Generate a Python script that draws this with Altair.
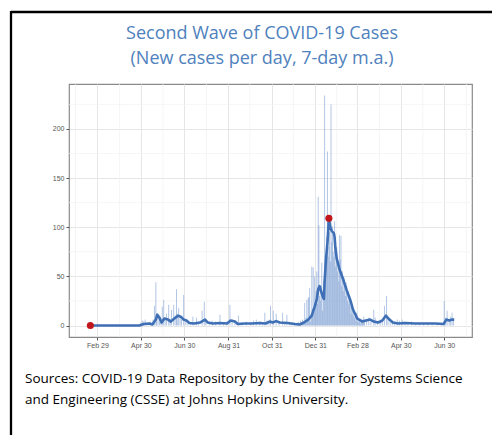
import altair as alt
import pandas as pd

# ---------------- data ----------------
ma_dates = ["2020-02-19", "2020-04-28", "2020-05-04", "2020-05-12", "2020-05-16", "2020-05-21",
            "2020-05-23", "2020-05-26", "2020-05-29", "2020-06-02", "2020-06-07", "2020-06-11",
            "2020-06-16", "2020-06-21", "2020-06-25", "2020-06-29", "2020-07-03", "2020-07-07",
            "2020-07-14", "2020-07-22", "2020-07-29", "2020-08-02", "2020-08-09", "2020-08-19",
            "2020-08-29", "2020-09-03", "2020-09-09", "2020-09-13", "2020-09-23", "2020-10-03",
            "2020-10-14", "2020-10-22", "2020-10-28", "2020-11-01", "2020-11-06", "2020-11-11",
            "2020-11-22", "2020-12-02", "2020-12-09", "2020-12-15", "2020-12-21", "2020-12-26",
            "2020-12-28", "2020-12-30", "2021-01-01", "2021-01-02", "2021-01-04", "2021-01-06",
            "2021-01-08", "2021-01-10", "2021-01-12", "2021-01-13", "2021-01-15", "2021-01-17",
            "2021-01-18", "2021-01-19", "2021-01-21", "2021-01-23", "2021-01-26", "2021-01-27",
            "2021-01-28", "2021-01-30", "2021-02-03", "2021-02-08", "2021-02-13", "2021-02-18",
            "2021-02-22", "2021-02-28", "2021-03-07", "2021-03-12", "2021-03-18", "2021-03-23",
            "2021-03-29", "2021-04-04", "2021-04-09", "2021-04-14", "2021-04-19", "2021-04-26",
            "2021-05-06", "2021-05-20", "2021-06-03", "2021-06-17", "2021-06-29", "2021-07-03",
            "2021-07-07", "2021-07-11", "2021-07-14"]
ma_values = [0, 0, 1.5, 2, 1, 6,
             11, 8, 3, 7, 6, 4,
             7, 10, 9, 6, 5, 2.5,
             2, 3, 6, 3, 2, 2.5,
             2, 5, 4, 1.5, 2, 2,
             2.5, 2, 4, 3, 4.5, 3,
             2.5, 1.5, 1, 3, 6, 10,
             15, 19, 24, 27, 37, 40,
             35, 30, 27, 45, 68, 84,
             96, 109, 100, 96, 94, 90,
             80, 68, 57, 47, 36, 26,
             16, 7, 4, 5, 6, 4,
             3, 5, 10, 6, 3, 2,
             2.5, 2, 2, 2, 1.5, 6,
             5, 6, 6]

spike_dates = ["2020-04-30", "2020-05-02", "2020-05-04", "2020-05-06", "2020-05-08", "2020-05-10",
               "2020-05-13", "2020-05-17", "2020-05-19", "2020-05-21", "2020-05-22", "2020-05-24",
               "2020-05-26", "2020-05-28", "2020-05-30", "2020-06-01", "2020-06-03", "2020-06-05",
               "2020-06-08", "2020-06-10", "2020-06-12", "2020-06-15", "2020-06-17", "2020-06-19",
               "2020-06-20", "2020-06-22", "2020-06-24", "2020-06-26", "2020-06-29", "2020-07-02",
               "2020-07-05", "2020-07-09", "2020-07-12", "2020-07-17", "2020-07-20", "2020-07-25",
               "2020-07-28", "2020-07-30", "2020-08-04", "2020-08-08", "2020-08-13", "2020-08-19",
               "2020-08-24", "2020-08-28", "2020-09-02", "2020-09-05", "2020-09-09", "2020-09-14",
               "2020-09-19", "2020-09-25", "2020-10-01", "2020-10-05", "2020-10-09", "2020-10-14",
               "2020-10-18", "2020-10-21", "2020-10-24", "2020-10-27", "2020-10-29", "2020-11-02",
               "2020-11-06", "2020-11-10", "2020-11-15", "2020-11-18", "2020-11-21", "2020-11-25",
               "2020-11-28",
               "2021-03-13", "2021-03-16", "2021-03-19", "2021-03-23", "2021-03-25", "2021-03-28",
               "2021-04-01", "2021-04-04", "2021-04-07", "2021-04-10", "2021-04-12", "2021-04-15",
               "2021-04-18", "2021-04-21", "2021-04-25", "2021-04-28", "2021-05-02", "2021-05-06",
               "2021-05-10", "2021-05-15", "2021-05-20", "2021-05-26", "2021-06-01", "2021-06-07",
               "2021-06-13", "2021-06-20", "2021-06-26", "2021-06-30", "2021-07-02", "2021-07-04",
               "2021-07-07", "2021-07-09", "2021-07-11", "2021-07-13"]
spike_values = [3, 5, 4, 6, 3, 2,
                4, 6, 20, 44, 12, 9,
                8, 6, 19, 26, 5, 12,
                21, 7, 16, 21, 10, 37,
                12, 18, 8, 6, 31, 6,
                4, 3, 9, 8, 4, 15,
                24, 7, 3, 5, 4, 11,
                3, 4, 21, 6, 5, 10,
                3, 4, 3, 5, 6, 4,
                3, 13, 5, 6, 20, 15,
                12, 4, 13, 3, 11, 2,
                3,
                5, 8, 4, 16, 8, 3,
                6, 5, 20, 30, 8, 6,
                4, 3, 6, 5, 6, 4,
                3, 4, 2, 3, 2, 3,
                2, 3, 2, 25, 8, 15,
                6, 9, 13, 7]

# daily new cases during the second wave, one value per day from wave_start
wave_start = "2020-12-01"
wave_values = [0, 3, 0, 2, 0, 1, 4, 0, 2, 5, 0, 3, 6, 2, 4, 23, 3, 8, 26, 5, 28, 29, 38, 4, 12,
               60, 10, 59, 18, 50, 20,
               35, 55, 22, 131, 102, 30, 25, 40, 64, 15, 30, 45, 234, 55, 60, 90, 177, 70, 80, 95,
               65, 225, 85, 101, 75, 70, 106, 60, 75, 80, 55,
               60, 45, 92, 67, 91, 40, 55, 35, 50, 47, 30, 44, 40, 25, 30, 22, 28, 20, 12, 20, 15,
               10, 14, 8, 9, 5, 13, 4,
               6, 3, 5, 2, 7, 4, 3, 6, 9, 4]

marker_dates = ["2020-02-19", "2021-01-19"]
marker_values = [0, 109]

major_ticks = ["2020-02-29", "2020-04-30", "2020-06-30", "2020-08-31", "2020-10-31",
               "2020-12-31", "2021-02-28", "2021-04-30", "2021-06-30"]
minor_ticks = ["2020-01-29", "2020-03-31", "2020-05-31", "2020-07-31", "2020-09-30",
               "2020-11-30", "2021-01-30", "2021-03-31", "2021-05-31", "2021-07-31"]
x_limits = ["2020-01-20", "2021-08-08"]
y_major = [0, 50, 100, 150, 200]
y_minor = [25, 75, 125, 175, 225]
y_limits = [-11.7, 245.7]

title_lines = ["Second Wave of COVID-19 Cases", "(New cases per day, 7-day m.a.)"]
source_lines = ["Sources: COVID-19 Data Repository by the Center for Systems Science",
                "and Engineering (CSSE) at Johns Hopkins University."]

# ---------------- tables ----------------
def ms(s):
    return int(pd.Timestamp(s, tz="UTC").timestamp() * 1000)

wave_dates = [d.strftime("%Y-%m-%d") for d in pd.date_range(wave_start, periods=len(wave_values))]
daily_df = pd.DataFrame({"date": spike_dates + wave_dates, "cases": spike_values + wave_values})
ma_df = pd.DataFrame({"date": ma_dates, "cases": ma_values})
mk_df = pd.DataFrame({"date": marker_dates, "cases": marker_values})
minor_x_df = pd.DataFrame({"date": minor_ticks})
minor_y_df = pd.DataFrame({"v": y_minor})
one = pd.DataFrame({"a": [0]})

W, H = 403, 253
PAD = {"left": 61, "top": 76, "right": 20, "bottom": 98}

x_scale = alt.Scale(type="utc", domain=[ms(d) for d in x_limits], nice=False)
y_scale = alt.Scale(domain=y_limits, nice=False, zero=False)

x_axis = alt.Axis(values=[ms(d) for d in major_ticks],
                  labelExpr="utcFormat(datum.value, '%b %d')",
                  title=None, grid=True, gridColor="#e6e6e6", gridWidth=1,
                  tickSize=3, tickColor="#555555", labelPadding=1, domain=False,
                  labelFont="Liberation Sans", labelFontSize=7, labelColor="#555555")
y_axis = alt.Axis(values=y_major, title=None, grid=True, gridColor="#e6e6e6", gridWidth=1,
                  tickSize=3, tickColor="#555555", labelPadding=2, domain=False,
                  labelFont="Liberation Sans", labelFontSize=7, labelColor="#555555")

X = alt.X("date:T", scale=x_scale, axis=x_axis)
Y = alt.Y("cases:Q", scale=y_scale, axis=y_axis)

minor_v = alt.Chart(minor_x_df).mark_rule(color="#f0f0f0", strokeWidth=0.7).encode(
    x=alt.X("date:T", scale=x_scale))
minor_h = alt.Chart(minor_y_df).mark_rule(color="#f0f0f0", strokeWidth=0.7).encode(
    y=alt.Y("v:Q", scale=y_scale))

bars = alt.Chart(daily_df).mark_rule(color="#7ea0d4", opacity=0.6, strokeWidth=1).encode(
    x=X, y=Y, y2=alt.datum(0))

line = alt.Chart(ma_df).mark_line(color="#3f6fb5", strokeWidth=2.6, strokeJoin="round").encode(
    x=X, y=Y)

dots = alt.Chart(mk_df).mark_point(filled=True, color="#c0161c", size=50, opacity=1).encode(
    x=X, y=Y)

title1 = alt.Chart(one).mark_text(text=title_lines[0], font="Open Sans", fontSize=18,
                                  color="#4f81bd", align="center", baseline="middle").encode(
    x=alt.value(193), y=alt.value(-50))
title2 = alt.Chart(one).mark_text(text=title_lines[1], font="Open Sans", fontSize=18,
                                  color="#4f81bd", align="center", baseline="middle").encode(
    x=alt.value(193), y=alt.value(-25))
src1 = alt.Chart(one).mark_text(text=source_lines[0], font="Open Sans", fontSize=13.5,
                                color="#000000", align="left", baseline="middle").encode(
    x=alt.value(-44), y=alt.value(295))
src2 = alt.Chart(one).mark_text(text=source_lines[1], font="Open Sans", fontSize=13.5,
                                color="#000000", align="left", baseline="middle").encode(
    x=alt.value(-44), y=alt.value(316))

frame_top = alt.Chart(one).mark_rule(color="black", strokeWidth=2.3, strokeCap="butt").encode(
    x=alt.value(-58), x2=alt.value(423), y=alt.value(-72), y2=alt.value(-72))
frame_left = alt.Chart(one).mark_rule(color="black", strokeWidth=2.3, strokeCap="butt").encode(
    x=alt.value(-58), x2=alt.value(-58), y=alt.value(-73), y2=alt.value(351))

chart = alt.layer(
    minor_v, minor_h, bars, line, dots, title1, title2, src1, src2, frame_top, frame_left
).properties(
    width=W, height=H, autosize=alt.AutoSizeParams(type="none"), padding=PAD,
    background="white"
).configure_view(
    stroke="#8a8a8a", strokeWidth=1.2
)

chart.save("out.html", embed_options={"renderer": "svg", "actions": False})
